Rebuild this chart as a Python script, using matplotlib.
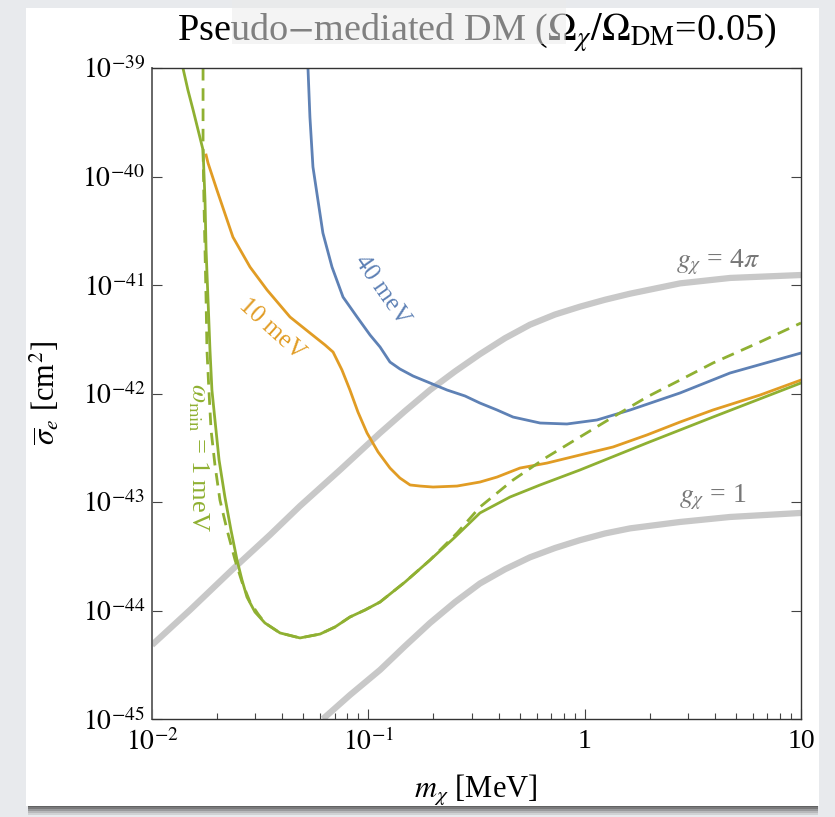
import matplotlib
matplotlib.use("Agg")
import matplotlib.pyplot as plt
import numpy as np
from matplotlib.patches import Rectangle

plt.rcParams['font.family'] = ['Liberation Serif', 'DejaVu Serif']
plt.rcParams['mathtext.fontset'] = 'stix'

# values, as log10(m_chi / MeV) and log10(sigma_e / cm^2)

# omega_min = 1 meV, solid
lm_1mev = [-1.857, -1.834, -1.810, -1.787, -1.764, -1.755, -1.750, -1.741, -1.732, -1.723,
           -1.709, -1.690, -1.663, -1.635, -1.607, -1.584, -1.561, -1.524, -1.478, -1.408,
           -1.316, -1.223, -1.154, -1.085, -1.015, -0.946, -0.830, -0.715, -0.599, -0.484,
           -0.345, -0.206, -0.022, 0.288, 0.593, 1.000]
ls_1mev = [-39.000, -39.203, -39.387, -39.571, -39.756, -40.217, -40.677, -41.138, -41.599,
           -41.968, -42.244, -42.613, -42.954, -43.258, -43.535, -43.719, -43.876, -44.014,
           -44.115, -44.207, -44.253, -44.217, -44.152, -44.060, -43.995, -43.922, -43.737,
           -43.535, -43.323, -43.101, -42.954, -42.843, -42.705, -42.456, -42.217, -41.903]

# omega_min = 1 meV, dashed
lm_1mev_d = [-1.764, -1.764, -1.760, -1.755, -1.750, -1.746, -1.737, -1.727, -1.709, -1.686,
             -1.653, -1.616, -1.584, -1.547, -1.510, -1.478, -1.408, -1.316, -1.223, -1.154,
             -1.085, -1.015, -0.946, -0.830, -0.715, -0.590, -0.484, -0.331, -0.174, -0.022,
             0.131, 0.288, 0.441, 0.593, 0.811, 1.000]
ls_1mev_d = [-39.000, -39.756, -40.217, -40.677, -41.138, -41.599, -41.968, -42.336, -42.659,
             -42.982, -43.258, -43.535, -43.737, -43.922, -44.032, -44.115, -44.207, -44.253,
             -44.217, -44.152, -44.060, -43.995, -43.922, -43.737, -43.535, -43.286, -43.046,
             -42.797, -42.585, -42.401, -42.217, -42.032, -41.876, -41.719, -41.525, -41.350]

# omega_min = 10 meV
lm_10mev = [-1.750, -1.741, -1.700, -1.626, -1.547, -1.468, -1.362, -1.270, -1.200, -1.163,
            -1.122, -1.085, -1.048, -1.006, -0.955, -0.900, -0.854, -0.807, -0.761, -0.701,
            -0.590, -0.484, -0.405, -0.299, -0.174, -0.022, 0.131, 0.288, 0.441, 0.593,
            0.811, 1.000]
ls_10mev = [-39.802, -39.876, -40.124, -40.558, -40.834, -41.046, -41.295, -41.442, -41.553,
            -41.618, -41.783, -41.968, -42.171, -42.364, -42.539, -42.687, -42.779, -42.843,
            -42.853, -42.862, -42.853, -42.816, -42.770, -42.687, -42.641, -42.567, -42.493,
            -42.382, -42.263, -42.152, -42.014, -41.876]

# omega_min = 40 meV
lm_40mev = [-1.279, -1.270, -1.256, -1.233, -1.210, -1.168, -1.117, -1.052, -0.992, -0.946,
            -0.900, -0.854, -0.793, -0.715, -0.636, -0.553, -0.484, -0.405, -0.331, -0.206,
            -0.082, 0.057, 0.210, 0.441, 0.672, 1.000]
ls_40mev = [-39.000, -39.452, -39.912, -40.217, -40.521, -40.834, -41.111, -41.295, -41.461,
            -41.571, -41.710, -41.774, -41.839, -41.903, -41.968, -42.023, -42.088, -42.152,
            -42.217, -42.272, -42.281, -42.244, -42.152, -41.995, -41.811, -41.627]

# g_chi = 4 pi
lm_g4pi = [-2.000, -1.824, -1.626, -1.455, -1.316, -1.131, -0.946, -0.830, -0.715, -0.599,
           -0.484, -0.368, -0.253, -0.137, -0.022, 0.094, 0.210, 0.441, 0.672, 1.000]
ls_g4pi = [-44.318, -43.995, -43.618, -43.304, -43.037, -42.705, -42.364, -42.161, -41.968,
           -41.796, -41.637, -41.490, -41.366, -41.272, -41.200, -41.136, -41.080, -40.985,
           -40.935, -40.908]

# g_chi = 1
lm_g1 = [-1.210, -1.085, -0.946, -0.830, -0.715, -0.599, -0.484, -0.368, -0.253, -0.137,
         -0.022, 0.094, 0.210, 0.441, 0.672, 1.000]
ls_g1 = [-45.000, -44.779, -44.548, -44.327, -44.115, -43.922, -43.751, -43.620, -43.510,
         -43.424, -43.352, -43.290, -43.243, -43.184, -43.138, -43.101]

blue = '#5E81B5'
orange = '#E19C24'
green = '#8FB032'
grey = '#c8c8c8'


def p(v):
    return 10.0 ** np.array(v)


fig = plt.figure(figsize=(8.35, 8.17), dpi=100)
fig.patch.set_facecolor('#e8eaed')

# slide panel + shadow under it
for k, a in enumerate([0.85, 0.7, 0.5, 0.3, 0.15]):
    fig.add_artist(Rectangle((28/835, (817-807-2*k)/817), 790/835, 2/817,
                             transform=fig.transFigure, facecolor='#4a4a4a', alpha=a,
                             edgecolor='none', zorder=0))
fig.add_artist(Rectangle((26/835, (817-806)/817), 793/835, 798/817,
                         transform=fig.transFigure, facecolor='white', edgecolor='none', zorder=0))

ax = fig.add_axes([152/835, 98/817, 649/835, 651/817])
ax.set_xscale('log')
ax.set_yscale('log')
ax.set_xlim(1e-2, 10)
ax.set_ylim(1e-45, 1e-39)

ax.plot(p(lm_g4pi), p(ls_g4pi), color=grey, lw=4.5, solid_capstyle='butt')
ax.plot(p(lm_g1), p(ls_g1), color=grey, lw=4.5, solid_capstyle='butt')
ax.plot(p(lm_40mev), p(ls_40mev), color=blue, lw=2.0)
ax.plot(p(lm_10mev), p(ls_10mev), color=orange, lw=2.0)
ax.plot(p(lm_1mev_d), p(ls_1mev_d), color=green, lw=2.0, dashes=(4.5, 2.8))
ax.plot(p(lm_1mev), p(ls_1mev), color=green, lw=2.0)

ax.text(0.116, 9.0e-42, '40 meV', color=blue, fontsize=18, rotation=-55,
        ha='center', va='center')
ax.text(0.0359, 3.9e-42, '10 meV', color=orange, fontsize=18, rotation=-42,
        ha='center', va='center')
ax.text(0.0163, 2.6e-43, r'$\omega_{\rm min}$ = 1 meV', color=green, fontsize=19,
        rotation=-90, ha='center', va='center')
ax.text(4.13, 1.63e-41, r'$g_\chi$ = 4$\pi$', color='#777777', fontsize=20,
        ha='center', va='center')
ax.text(3.92, 1.11e-43, r'$g_\chi$ = 1', color='#777777', fontsize=20,
        ha='center', va='center')

ax.set_xticks([1e-2, 1e-1, 1, 10])
ax.set_xticklabels([r'$10^{-2}$', r'$10^{-1}$', '1', '10'])
ax.set_yticks([1e-45, 1e-44, 1e-43, 1e-42, 1e-41, 1e-40, 1e-39])
ax.set_yticklabels([r'$10^{-45}$', r'$10^{-44}$', r'$10^{-43}$', r'$10^{-42}$',
                    r'$10^{-41}$', r'$10^{-40}$', r'$10^{-39}$'])
ax.yaxis.set_minor_locator(matplotlib.ticker.NullLocator())
ax.tick_params(axis='both', which='major', direction='in', labelsize=20, length=7,
               width=0.8, color='#444444')
ax.tick_params(axis='x', which='minor', direction='in', length=4, width=0.8, color='#444444')
ax.tick_params(axis='y', right=True, pad=5)
ax.tick_params(axis='x', pad=7)
for sp in ax.spines.values():
    sp.set_color('#333333')
    sp.set_linewidth(1.0)
ax.spines['left'].set_color('#666666')
ax.spines['left'].set_linewidth(1.4)

fig.text(45/835, 1-393/817, r'$\overline{\sigma}_e$ [cm$^2$]', rotation=90, fontsize=22,
         ha='center', va='center')
fig.text(476/835, 1-790/817, r'$m_\chi$ [MeV]', fontsize=22, ha='center', va='center')
fig.text(477/835, 1-33/817, r'Pseudo$-$mediated DM ($\Omega_\chi/\Omega_{\rm DM}$=0.05)',
         fontsize=27.5, ha='center', va='center')

# translucent box sitting over part of the title
fig.add_artist(Rectangle((232/835, 1-44/817), 334/835, 44/817, transform=fig.transFigure,
                         facecolor='#ebebeb', alpha=0.55, edgecolor='none', zorder=10))

fig.savefig('out.png', dpi=100, facecolor=fig.get_facecolor())
